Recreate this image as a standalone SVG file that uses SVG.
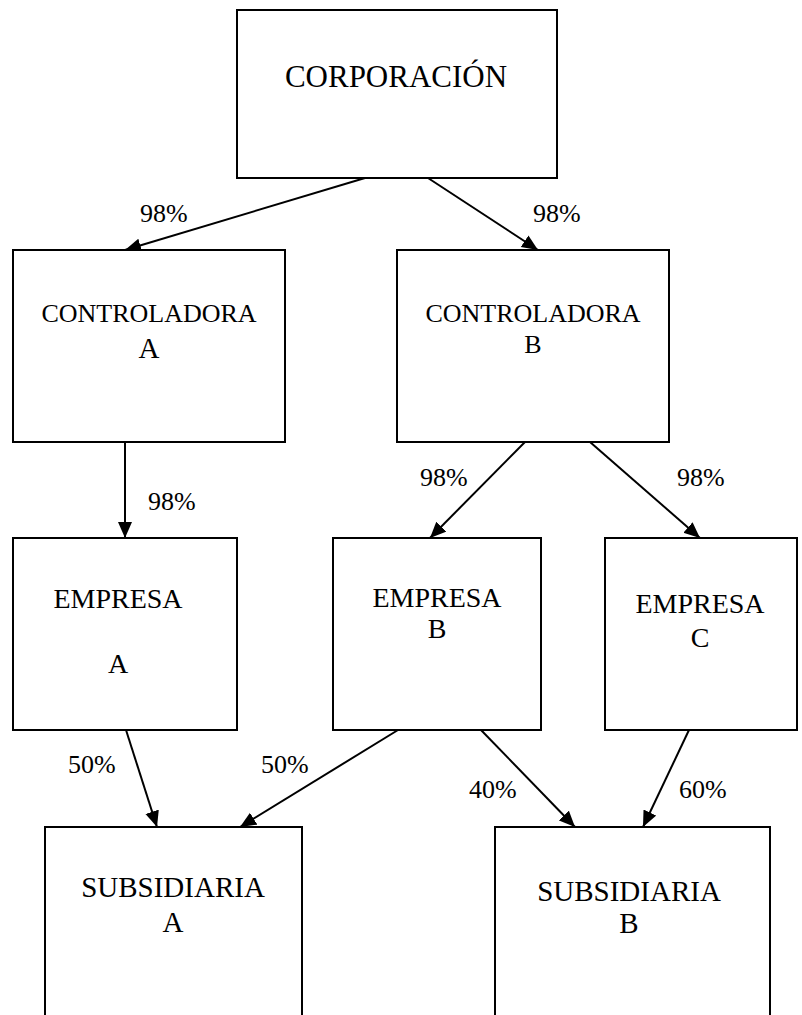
<svg xmlns="http://www.w3.org/2000/svg" width="802" height="1015" viewBox="0 0 802 1015">
<style>
.box{fill:#fff;stroke:#000;stroke-width:2}
.t{fill:#000;text-anchor:middle}
.lbl{fill:#000;font-size:26px}
.c{stroke:#000;stroke-width:2;fill:none;marker-end:url(#ah)}
</style>
<defs>
<marker id="ah" markerUnits="userSpaceOnUse" markerWidth="17" markerHeight="15" refX="16" refY="7" orient="auto">
<path d="M0,0 L16,7 L0,14 z" fill="#000"/>
</marker>
</defs>
<rect width="802" height="1015" fill="#fff"/>
<g id="connectors">
<line class="c" x1="365" y1="178" x2="125" y2="250"/>
<line class="c" x1="428" y1="178" x2="538" y2="250"/>
<line class="c" x1="125" y1="442" x2="125" y2="538"/>
<line class="c" x1="525" y1="442" x2="430" y2="538"/>
<line class="c" x1="590" y1="442" x2="700" y2="538"/>
<line class="c" x1="126" y1="730" x2="157" y2="827"/>
<line class="c" x1="398" y1="730" x2="240" y2="827"/>
<line class="c" x1="481" y1="730" x2="575" y2="827"/>
<line class="c" x1="689" y1="730" x2="643" y2="827"/>
</g>
<g id="labels" font-family="Liberation Serif, serif">
<text class="lbl" x="140" y="222">98%</text>
<text class="lbl" x="533" y="222">98%</text>
<text class="lbl" x="148" y="510">98%</text>
<text class="lbl" x="420" y="486">98%</text>
<text class="lbl" x="677" y="486">98%</text>
<text class="lbl" x="68" y="773">50%</text>
<text class="lbl" x="261" y="773">50%</text>
<text class="lbl" x="469" y="798">40%</text>
<text class="lbl" x="679" y="798">60%</text>
</g>
<g id="corporacion" font-family="Liberation Serif, serif">
<rect class="box" x="237" y="10" width="320" height="168"/>
<text class="t" x="396" y="87" font-size="31">CORPORACIÓN</text>
</g>
<g id="controladora-a" font-family="Liberation Serif, serif">
<rect class="box" x="13" y="250" width="272" height="192"/>
<text class="t" x="149" y="322" font-size="26">CONTROLADORA</text>
<text class="t" x="149" y="358" font-size="29">A</text>
</g>
<g id="controladora-b" font-family="Liberation Serif, serif">
<rect class="box" x="397" y="250" width="272" height="192"/>
<text class="t" x="533" y="322" font-size="26">CONTROLADORA</text>
<text class="t" x="533" y="353" font-size="26">B</text>
</g>
<g id="empresa-a" font-family="Liberation Serif, serif">
<rect class="box" x="13" y="538" width="224" height="192"/>
<text class="t" x="118" y="608" font-size="28">EMPRESA</text>
<text class="t" x="118" y="673" font-size="28">A</text>
</g>
<g id="empresa-b" font-family="Liberation Serif, serif">
<rect class="box" x="333" y="538" width="208" height="192"/>
<text class="t" x="437" y="607" font-size="28">EMPRESA</text>
<text class="t" x="437" y="638" font-size="28">B</text>
</g>
<g id="empresa-c" font-family="Liberation Serif, serif">
<rect class="box" x="605" y="538" width="192" height="192"/>
<text class="t" x="700" y="613" font-size="28">EMPRESA</text>
<text class="t" x="700" y="647" font-size="28">C</text>
</g>
<g id="subsidiaria-a" font-family="Liberation Serif, serif">
<rect class="box" x="45" y="827" width="257" height="200"/>
<text class="t" x="173" y="897" font-size="29">SUBSIDIARIA</text>
<text class="t" x="173" y="932" font-size="29">A</text>
</g>
<g id="subsidiaria-b" font-family="Liberation Serif, serif">
<rect class="box" x="495" y="827" width="275" height="200"/>
<text class="t" x="629" y="901" font-size="29">SUBSIDIARIA</text>
<text class="t" x="629" y="933" font-size="29">B</text>
</g>
</svg>
